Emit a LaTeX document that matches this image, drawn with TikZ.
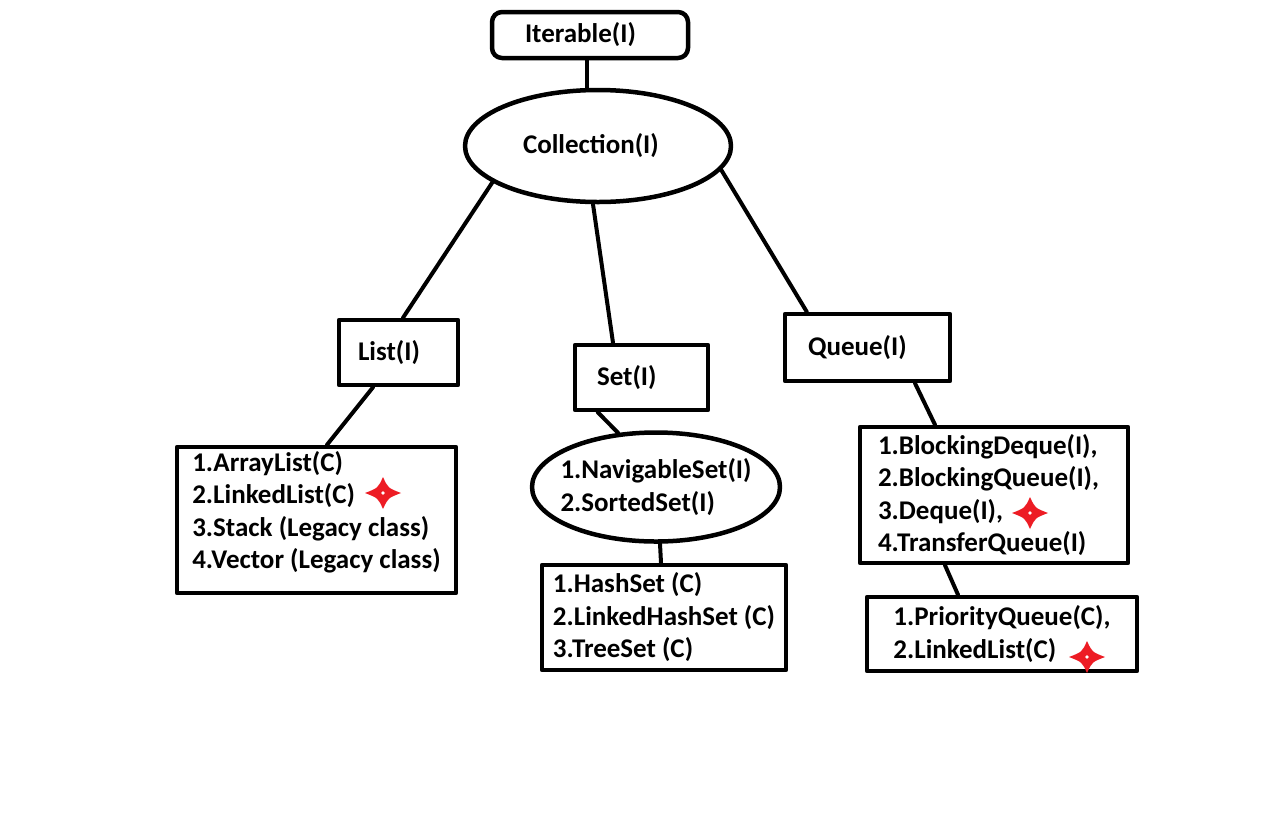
\documentclass[tikz,border=0pt]{standalone}
\usepackage{fontspec}
\setmainfont{Carlito}
\usetikzlibrary{shapes.geometric}
\definecolor{paintred}{RGB}{237,28,36}

\begin{document}
\begin{tikzpicture}[x=1pt,y=-1pt,line cap=round,line join=round,
  every node/.style={inner sep=0pt,font=\bfseries\fontsize{27}{32.5}\selectfont,align=left},
  boxed/.style={draw,rectangle,line width=4.5pt},
  oval/.style={draw,ellipse,line width=4.5pt},
  wire/.style={line width=4pt},
  spark/.pic={
    \fill[paintred] (18,0) .. controls (5,5) .. (0,16) .. controls (-5,5) .. (-18,0)
      .. controls (-5,-5) .. (0,-16) .. controls (5,-5) .. cycle;
    \fill[white] (0,0) circle (1.8);}]
  \useasboundingbox[fill=white] (0,0) rectangle (1284,839);
  \node[boxed,rounded corners=10pt,minimum width=196pt,minimum height=46pt,text width=130pt] (iter) at (590,35) {Iterable(I)};
  \node[oval,minimum width=266pt,minimum height=112pt,text width=150pt] (coll) at (598,146) {Collection(I)};
  \node[boxed,minimum width=119pt,minimum height=65pt,text width=81pt] (list) at (398.5,352.5) {List(I)};
  \node[boxed,minimum width=133pt,minimum height=65pt,text width=89pt] (set) at (641.5,377.5) {Set(I)};
  \node[boxed,minimum width=165pt,minimum height=67pt,text width=119pt] (queue) at (867.5,347.5) {Queue(I)};
  \node[boxed,minimum width=279pt,minimum height=146pt] (litems) at (316.5,520)
    {1.ArrayList(C)\\2.LinkedList(C)\\3.Stack (Legacy class)\\4.Vector (Legacy class)\rule[-20pt]{0pt}{20pt}};
  \node[oval,minimum width=248pt,minimum height=109pt,inner xsep=-25pt] (navig) at (656,487)
    {1.NavigableSet(I)\\2.SortedSet(I)};
  \node[boxed,minimum width=244pt,minimum height=105pt] (sitems) at (664,617.5)
    {1.HashSet (C)\\2.LinkedHashSet (C)\\3.TreeSet (C)};
  \node[boxed,minimum width=268pt,minimum height=136pt,text width=232pt] (qitems) at (994,495)
    {1.BlockingDeque(I),\\2.BlockingQueue(I),\\3.Deque(I),\\4.TransferQueue(I)};
  \node[boxed,minimum width=270pt,minimum height=74pt] (prio) at (1002,634)
    {1.PriorityQueue(C),\\2.LinkedList(C)};
  \draw[wire] ([xshift=-3pt]iter.south) -- ([xshift=-11pt]coll.north);
  \draw[wire] (coll.199) -- ([xshift=4.5pt]list.north);
  \draw[wire] ([xshift=-5pt]coll.south) -- ([xshift=-28.5pt]set.north);
  \draw[wire] (coll.-11) -- ([xshift=24pt]queue.north west);
  \draw[wire] ([xshift=-25.5pt]list.south) -- ([xshift=10.5pt]litems.north);
  \draw[wire] ([xshift=25pt]set.south west) -- (navig.125);
  \draw[wire] ([xshift=4pt]navig.south) -- ([xshift=-3pt]sitems.north);
  \draw[wire] ([xshift=47.5pt]queue.south) -- ([xshift=-59pt]qitems.north);
  \draw[wire] ([xshift=-49pt]qitems.south) -- ([xshift=-44pt]prio.north);
  \pic at (383,493) {spark};
  \pic at (1030,513) {spark};
  \pic at (1087,657) {spark};
\end{tikzpicture}
\end{document}
